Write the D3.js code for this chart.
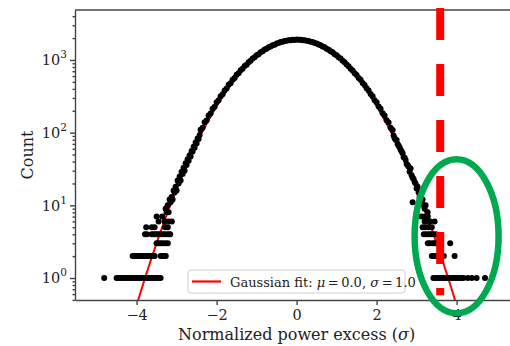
<!DOCTYPE html>
<html>
<head>
<meta charset="utf-8">
<script src="https://cdn.jsdelivr.net/npm/d3@7"></script>
<style>
  body { margin: 0; background: #fff; }
  svg { display: block; font-family: "DejaVu Serif", serif; }
</style>
</head>
<body>
<svg id="chart" width="510" height="346"></svg>
<script>
// histogram counts
const coreStart = -2.4, coreStep = 0.05;
const coreCounts = [110,117,139,147,172,184,214,228,262,279,318,338,381,405,455,480,535,566,624,657,
  720,757,824,862,933,972,1046,1086,1161,1201,1276,1315,1388,1425,1496,1529,1596,1624,1686,1707,
  1764,1776,1826,1832,1871,1869,1899,1888,1906,1891,1897,1871,1868,1835,1823,1780,1760,1709,1684,
  1626,1594,1531,1493,1428,1386,1317,1274,1203,1159,1088,1044,974,931,864,822,758,719,658,622,
  567,533,482,452,407,380,339,316,280,261,229,213,185,172,148,138,117,109];

const tailStep = 0.025;
const leftTailStart = -3.3;
const leftTailCounts = [6,9,8,10,8,12,11,13,12,16,15,18,16,22,20,25,22,29,27,33,30,38,36,43,41,49,47,56,55,64,62,73,71,83,82,93];
const rightTailStart = 2.425;
const rightTailCounts = [91,84,80,79,70,66,63,58,55,52,46,45,42,37,36,34,29,32,26,24,23,21,20,17,18,15,13,15,11,12,10,9,10,7,8,6];

// low-count rows in the far tails: bins sitting at count 1, 2, 3 ...
const tailLevels = [1, 2, 3, 4, 5, 6, 7];
const leftRowX = [
  [-4.81,-4.50,-4.45,-4.40,-4.35,-4.30,-4.25,-4.20,-4.15,-4.10,-4.05,-4.00,-3.95,-3.90,-3.85,-3.80,-3.75,-3.70,-3.65,-3.60,-3.55,-3.50,-3.45,-3.40],
  [-4.10,-4.05,-4.00,-3.95,-3.90,-3.85,-3.80,-3.75,-3.70,-3.65,-3.60,-3.55,-3.40,-3.35,-3.30,-3.27],
  [-3.50,-3.45,-3.40,-3.35,-3.28,-3.22],
  [-3.79,-3.74,-3.62,-3.57,-3.52,-3.47,-3.42,-3.37,-3.32,-3.26,-3.20,-3.16],
  [-3.76,-3.62,-3.55,-3.29,-3.22],
  [-3.45,-3.28,-3.20,-3.12],
  [-3.50,-3.36]
];
const rightRowX = [
  [3.42,3.47,3.52,3.57,3.62,3.67,3.72,3.77,3.82,3.87,3.92,3.97,4.02,4.07,4.12,4.17,4.28,4.38,4.50,4.71],
  [3.38,3.43,3.48,3.53,3.58,3.63,3.68,3.95],
  [3.28,3.33,3.40,3.45,3.50,3.55,3.60,3.84],
  [3.18,3.24,3.30,3.35,3.42,3.48],
  [3.15,3.22,3.30,3.38],
  [3.20,3.27,3.34,3.45],
  [3.12,3.20,3.28]
];
const outliers = [[2.9, 11]];

// gaussian fit parameters
const fitAmp = 1900, fitMu = 0, fitSigma = 0.975;

const xTicks = [-4, -2, 0, 2, 4];
const yMajor = [1, 10, 100, 1000];
const yExp = ['0', '1', '2', '3'];

// annotations
const markX = 3.59, markSpan = [5200, 0.58];
const circleAt = [4.0, 3.75];

const svg = d3.select('#chart');
const x = d3.scaleLinear().domain([-5.54, 5.9]).range([75, 532.6]);
const y = d3.scaleLog().domain([0.498, 4870]).range([300, 10]);

const points = [];
coreCounts.forEach((c, i) => points.push({ x: coreStart + i * coreStep, y: c }));
leftTailCounts.forEach((c, i) => points.push({ x: leftTailStart + i * tailStep, y: c }));
rightTailCounts.forEach((c, i) => points.push({ x: rightTailStart + i * tailStep, y: c }));
tailLevels.forEach((lv, k) => {
  leftRowX[k].forEach(v => points.push({ x: v, y: lv }));
  rightRowX[k].forEach(v => points.push({ x: v, y: lv }));
});
outliers.forEach(d => points.push({ x: d[0], y: d[1] }));

svg.append('clipPath').attr('id', 'plot')
  .append('rect')
  .attr('x', x.range()[0]).attr('y', y.range()[1])
  .attr('width', x.range()[1] - x.range()[0])
  .attr('height', y.range()[0] - y.range()[1]);

// fit line
const fitX = d3.range(-5.5, 5.9, 0.02);
const fitLine = d3.line()
  .x(d => x(d))
  .y(d => y(fitAmp * Math.exp(-((d - fitMu) ** 2) / (2 * fitSigma * fitSigma))));
svg.append('path')
  .datum(fitX)
  .attr('clip-path', 'url(#plot)')
  .attr('d', fitLine)
  .attr('fill', 'none')
  .attr('stroke', '#ff0000')
  .attr('stroke-width', 2);

// histogram dots
svg.append('g')
  .attr('clip-path', 'url(#plot)')
  .selectAll('circle')
  .data(points)
  .join('circle')
  .attr('cx', d => x(d.x))
  .attr('cy', d => y(d.y))
  .attr('r', 3)
  .attr('fill', '#000');

// axes
const spine = '#444';
const xAxis = svg.append('g')
  .attr('transform', `translate(0,${y.range()[0]})`)
  .call(d3.axisBottom(x).tickValues(xTicks).tickSize(5).tickSizeOuter(0).tickPadding(5)
    .tickFormat(d => d < 0 ? '\u2212' + Math.abs(d) : d));
xAxis.selectAll('text').attr('font-size', 14.5).attr('fill', '#222').attr('font-family', 'DejaVu Serif');

const yMinor = y.ticks().filter(d => !yMajor.includes(d));
svg.append('g')
  .attr('transform', `translate(${x.range()[0]},0)`)
  .call(d3.axisLeft(y).tickValues(yMajor).tickSize(5).tickSizeOuter(0).tickFormat(''));
svg.append('g')
  .attr('transform', `translate(${x.range()[0]},0)`)
  .call(d3.axisLeft(y).tickValues(yMinor).tickSize(2.5).tickSizeOuter(0).tickFormat(''))
  .select('.domain').remove();

svg.append('line')
  .attr('x1', x.range()[0]).attr('x2', x.range()[1])
  .attr('y1', y.range()[1]).attr('y2', y.range()[1]);

svg.selectAll('.domain, .tick line, line').attr('stroke', spine).attr('stroke-width', 1.4);

const yLab = svg.append('g').selectAll('text')
  .data(yMajor)
  .join('text')
  .attr('x', x.range()[0] - 8)
  .attr('y', d => y(d) + 5.5)
  .attr('text-anchor', 'end')
  .attr('font-size', 14.5)
  .attr('fill', '#222');
yLab.append('tspan').text('10');
yLab.append('tspan').attr('dy', -7).attr('font-size', 10.5).text((d, i) => yExp[i]);

svg.append('text')
  .attr('transform', `translate(27,${(y.range()[0] + y.range()[1]) / 2}) rotate(-90)`)
  .attr('text-anchor', 'middle')
  .attr('dy', '0.35em')
  .attr('font-size', 16)
  .attr('fill', '#222')
  .text('Count');

const xl = svg.append('text')
  .attr('x', x(0))
  .attr('y', 340)
  .attr('text-anchor', 'middle')
  .attr('font-size', 16)
  .attr('fill', '#222');
xl.append('tspan').text('Normalized power excess (');
xl.append('tspan').attr('font-style', 'italic').text('\u03c3');
xl.append('tspan').text(')');

// legend
const lg = svg.append('g').attr('transform', 'translate(188,270)');
lg.append('rect')
  .attr('width', 217).attr('height', 23).attr('rx', 3)
  .attr('fill', '#fff').attr('fill-opacity', 0.8)
  .attr('stroke', '#d0d0d0');
lg.append('line')
  .attr('x1', 4).attr('x2', 33).attr('y1', 11.5).attr('y2', 11.5)
  .attr('stroke', '#ff0000').attr('stroke-width', 2.2);
const lt = lg.append('text').attr('x', 42).attr('y', 16.5).attr('font-size', 13).attr('fill', '#222');
lt.append('tspan').text('Gaussian fit: ');
lt.append('tspan').attr('font-style', 'italic').text('\u03bc');
lt.append('tspan').text('\u2009=\u20090.0, ');
lt.append('tspan').attr('font-style', 'italic').text('\u03c3');
lt.append('tspan').text('\u2009=\u20091.0');

// red dashed marker
svg.append('line')
  .attr('x1', x(markX)).attr('x2', x(markX))
  .attr('y1', y(markSpan[0])).attr('y2', y(markSpan[1]))
  .attr('stroke', '#ff0000')
  .attr('stroke-width', 8)
  .attr('stroke-dasharray', '32,24');

// green ring
svg.append('ellipse')
  .attr('cx', x(circleAt[0])).attr('cy', y(circleAt[1]))
  .attr('rx', 42).attr('ry', 77)
  .attr('fill', 'none')
  .attr('stroke', '#00a84f')
  .attr('stroke-width', 6.5);
</script>
</body>
</html>
